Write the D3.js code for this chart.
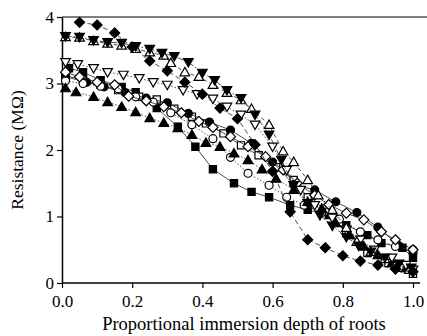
<!DOCTYPE html>
<html>
<head>
<meta charset="utf-8">
<script src="https://cdn.jsdelivr.net/npm/d3@7"></script>
<style>
  body { margin: 0; background: #fff; }
  svg { display: block; }
  svg text { font-family: "Liberation Serif", "Times New Roman", Times, serif; }
</style>
</head>
<body>
<div id="chart"></div>
<script>
// proportional immersion depth (x) and resistance in MOhm (y), one pair per root sample
const diamondFilledX = [0.05,0.10,0.15,0.20,0.25,0.30,0.35,0.40,0.45,0.50,0.55,0.60,0.65,0.70,0.75,0.80,0.85,0.90,0.95,1.00];
const diamondFilledY = [3.92,3.88,3.76,3.55,3.34,3.19,3.02,2.84,2.63,2.47,2.08,1.68,1.07,0.65,0.53,0.41,0.33,0.27,0.21,0.17];

const triDownFilledX = [0.01,0.05,0.09,0.13,0.17,0.21,0.25,0.285,0.32,0.36,0.40,0.435,0.47,0.51,0.55,0.59,0.625,0.66,0.70,0.735,0.77,0.81,0.845,0.88,0.92,0.96,0.995];
const triDownFilledY = [3.71,3.70,3.65,3.62,3.61,3.56,3.52,3.46,3.41,3.32,3.16,3.05,2.90,2.78,2.53,2.23,1.85,1.47,1.20,1.02,0.86,0.69,0.56,0.47,0.38,0.29,0.23];

const triUpOpenX = [0.01,0.05,0.09,0.13,0.17,0.21,0.25,0.29,0.31,0.35,0.39,0.43,0.47,0.51,0.54,0.59,0.63,0.66,0.70,0.73,0.77,0.81,0.84,0.88,0.92,0.95,0.99];
const triUpOpenY = [3.70,3.69,3.64,3.60,3.57,3.52,3.47,3.42,3.31,3.17,3.10,2.98,2.86,2.75,2.62,2.38,1.98,1.82,1.55,1.32,1.10,0.83,0.62,0.47,0.36,0.27,0.20];

const triDownOpenX = [0.01,0.045,0.09,0.13,0.175,0.22,0.26,0.30,0.345,0.385,0.43,0.47,0.51,0.55,0.60,0.64,0.68,0.72,0.77,0.81,0.85,0.89,0.94,0.98,1.00];
const triDownOpenY = [3.32,3.29,3.23,3.17,3.13,3.08,3.02,2.98,2.90,2.84,2.77,2.65,2.53,2.38,2.05,1.70,1.40,1.17,0.98,0.80,0.65,0.50,0.38,0.27,0.20];

const diamondOpenX = [0.01,0.05,0.10,0.15,0.19,0.24,0.29,0.34,0.39,0.43,0.48,0.53,0.58,0.63,0.67,0.72,0.76,0.81,0.86,0.91,0.95,1.00];
const diamondOpenY = [3.17,3.10,3.02,2.98,2.81,2.74,2.65,2.56,2.43,2.34,2.20,2.05,1.90,1.70,1.50,1.32,1.18,1.05,0.95,0.77,0.65,0.50];

const circleOpenX = [0.01,0.06,0.11,0.16,0.21,0.26,0.31,0.37,0.43,0.48,0.53,0.59,0.64,0.69,0.74,0.79,0.85,0.90,0.95,1.00];
const circleOpenY = [3.04,3.00,2.96,2.92,2.80,2.72,2.56,2.38,2.17,1.89,1.65,1.47,1.29,1.17,1.06,0.96,0.77,0.65,0.55,0.50];

const circleFilledX = [0.01,0.07,0.12,0.18,0.24,0.30,0.36,0.42,0.48,0.54,0.60,0.66,0.72,0.78,0.84,0.90,0.96,1.00];
const circleFilledY = [3.10,3.02,2.95,2.86,2.78,2.71,2.55,2.42,2.30,2.10,1.82,1.48,1.40,1.22,1.06,0.84,0.56,0.45];

const squareOpenX = [0.01,0.06,0.11,0.16,0.22,0.27,0.32,0.37,0.41,0.46,0.51,0.56,0.61,0.66,0.70,0.76,0.81,0.87,0.93,0.97,1.00];
const squareOpenY = [3.12,3.05,2.98,2.90,2.80,2.76,2.62,2.50,2.40,2.25,2.07,1.92,1.74,1.55,1.29,1.07,0.75,0.45,0.30,0.23,0.14];

const squareFilledX = [0.02,0.06,0.11,0.17,0.21,0.27,0.33,0.38,0.43,0.49,0.54,0.59,0.65,0.70,0.76,0.81,0.87,0.91,0.97,1.00];
const squareFilledY = [3.23,3.17,3.05,2.95,2.87,2.63,2.35,2.05,1.71,1.50,1.37,1.29,1.17,1.10,1.02,0.87,0.72,0.60,0.53,0.38];

const triUpFilledX = [0.01,0.04,0.09,0.13,0.17,0.21,0.25,0.29,0.33,0.37,0.41,0.45,0.49,0.53,0.57,0.61,0.66,0.70,0.74,0.78,0.82,0.86,0.90,0.94,0.98];
const triUpFilledY = [2.93,2.87,2.80,2.72,2.65,2.57,2.48,2.41,2.33,2.23,2.11,2.05,1.95,1.85,1.71,1.57,1.40,1.22,1.12,0.90,0.72,0.55,0.42,0.30,0.22];

const xTicks = [0, 0.2, 0.4, 0.6, 0.8, 1.0];
const yTicks = [0, 1, 2, 3, 4];

const series = [
  {x: squareFilledX, y: squareFilledY, shape: "square", fill: true, dash: null},
  {x: squareOpenX, y: squareOpenY, shape: "square", fill: false, dash: null},
  {x: circleFilledX, y: circleFilledY, shape: "circle", fill: true, dash: null},
  {x: circleOpenX, y: circleOpenY, shape: "circle", fill: false, dash: "1.5,2"},
  {x: triUpFilledX, y: triUpFilledY, shape: "triUp", fill: true, dash: "1.5,2"},
  {x: diamondOpenX, y: diamondOpenY, shape: "diamond", fill: false, dash: null},
  {x: triDownOpenX, y: triDownOpenY, shape: "triDown", fill: false, dash: "1.5,2"},
  {x: triUpOpenX, y: triUpOpenY, shape: "triUp", fill: false, dash: "4,3"},
  {x: triDownFilledX, y: triDownFilledY, shape: "triDown", fill: true, dash: "6,2,1.5,2"},
  {x: diamondFilledX, y: diamondFilledY, shape: "diamond", fill: true, dash: "5,3"}
];

const width = 427, height = 336;
const margin = {top: 17, right: 14, bottom: 53, left: 62};
const serif = "Liberation Serif, Times New Roman, serif";

const svg = d3.select("#chart").append("svg")
  .attr("width", width)
  .attr("height", height)
  .attr("font-family", serif);

const x = d3.scaleLinear().domain([0, 1]).range([margin.left, 413]);
const y = d3.scaleLinear().domain([0, 4]).range([283, margin.top]);

// frame: top line runs to the right edge, no right border
svg.append("line")
  .attr("x1", margin.left).attr("x2", width)
  .attr("y1", y(4)).attr("y2", y(4))
  .attr("stroke", "#000").attr("stroke-width", 1.2);

const xAxis = svg.append("g")
  .attr("transform", "translate(0," + y(0) + ")")
  .call(d3.axisBottom(x).tickValues(xTicks).tickSize(5).tickSizeOuter(0)
    .tickFormat(d3.format(".1f")));
xAxis.select(".domain").attr("d", "M" + margin.left + ",0H420");

const yAxis = svg.append("g")
  .attr("transform", "translate(" + margin.left + ",0)")
  .call(d3.axisLeft(y).tickValues(yTicks).tickSize(5).tickSizeOuter(0)
    .tickFormat(d3.format("d")));

// d3 puts font-family="sans-serif" on axis groups, so override there
xAxis.attr("font-family", serif).attr("font-size", 17);
yAxis.attr("font-family", serif).attr("font-size", 17);

svg.selectAll(".domain").attr("stroke", "#000").attr("stroke-width", 1.5);
svg.selectAll(".tick line").attr("stroke", "#000").attr("stroke-width", 1.2);
svg.selectAll(".tick text").attr("fill", "#000");
xAxis.selectAll(".tick text").attr("dy", "0.95em");
yAxis.selectAll(".tick text").attr("x", -8);

svg.append("text")
  .attr("x", 244)
  .attr("y", 330)
  .attr("text-anchor", "middle")
  .attr("font-size", 18.5)
  .text("Proportional immersion depth of roots");

svg.append("text")
  .attr("transform", "translate(23," + ((y(0) + y(4)) / 2) + ") rotate(-90)")
  .attr("text-anchor", "middle")
  .attr("font-size", 17.5)
  .text("Resistance (M\u03A9)");

function markerPath(shape) {
  switch (shape) {
    case "diamond": return "M0,-5L5,0L0,5L-5,0Z";
    case "triUp": return "M0,-4.8L4.8,3.6L-4.8,3.6Z";
    case "triDown": return "M0,4.8L4.8,-3.6L-4.8,-3.6Z";
    case "square": return "M-3.6,-3.6H3.6V3.6H-3.6Z";
    default: return d3.symbol(d3.symbolCircle, 50)();
  }
}

const line = d3.line().x(d => x(d[0])).y(d => y(d[1]));

series.forEach(s => {
  const pts = s.x.map((v, i) => [v, s.y[i]]);
  const g = svg.append("g");
  g.append("path")
    .attr("d", line(pts))
    .attr("fill", "none")
    .attr("stroke", "#222")
    .attr("stroke-width", 0.8)
    .attr("stroke-dasharray", s.dash);
  g.selectAll("path.mark")
    .data(pts)
    .enter()
    .append("path")
    .attr("class", "mark")
    .attr("transform", d => "translate(" + x(d[0]) + "," + y(d[1]) + ")")
    .attr("d", markerPath(s.shape))
    .attr("fill", s.fill ? "#000" : "#fff")
    .attr("stroke", "#000")
    .attr("stroke-width", 1.2);
});
</script>
</body>
</html>
